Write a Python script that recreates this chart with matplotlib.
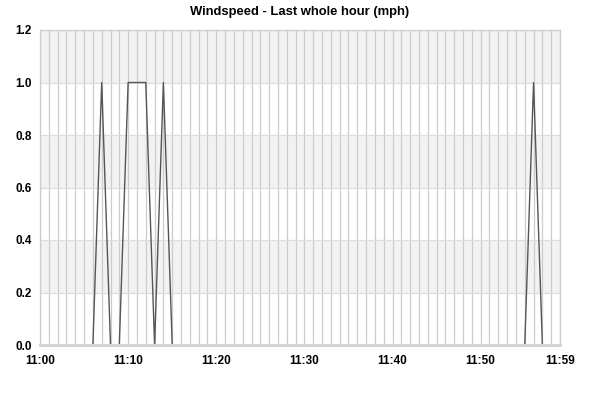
import matplotlib
matplotlib.use("Agg")
import matplotlib.pyplot as plt
import numpy as np

# minutes past 11:00 and windspeed (mph)
minutes = list(range(60))
speed = [0, 0, 0, 0, 0, 0, 0, 1, 0, 0,
         1, 1, 1, 0, 1, 0, 0, 0, 0, 0,
         0, 0, 0, 0, 0, 0, 0, 0, 0, 0,
         0, 0, 0, 0, 0, 0, 0, 0, 0, 0,
         0, 0, 0, 0, 0, 0, 0, 0, 0, 0,
         0, 0, 0, 0, 0, 0, 1, 0, 0, 0]
tick_minutes = [0, 10, 20, 30, 40, 50, 59]
tick_labels = ["11:00", "11:10", "11:20", "11:30", "11:40", "11:50", "11:59"]
y_ticks = [0.0, 0.2, 0.4, 0.6, 0.8, 1.0, 1.2]

plt.rcParams["font.family"] = ["Liberation Sans", "DejaVu Sans"]

fig = plt.figure(figsize=(6, 4), dpi=100)
ax = fig.add_axes([40 / 600, 55 / 400, 520 / 600, 315 / 400])

# alternating bands
for i in range(len(y_ticks) - 1):
    if i % 2 == 1:
        ax.axhspan(y_ticks[i], y_ticks[i + 1], color="#f2f2f2", zorder=0, lw=0)

ax.set_xticks(minutes, minor=True)
ax.grid(which="minor", axis="x", color="#cccccc", lw=0.9, zorder=1)
ax.grid(which="major", axis="x", color="#cccccc", lw=0.9, zorder=1)
ax.grid(which="major", axis="y", color="#dddddd", lw=0.9, zorder=1)

ax.plot(minutes, speed, color="#555555", lw=1.0, zorder=2)

ax.set_xlim(0, 59)
ax.set_ylim(0, 1.2)
ax.set_xticks(tick_minutes)
ax.set_xticklabels(tick_labels)
ax.set_yticks(y_ticks)
ax.set_yticklabels([f"{v:.1f}" for v in y_ticks])
ax.tick_params(which="both", length=0, labelsize=8.5)
ax.tick_params(axis="y", pad=6)
ax.tick_params(axis="x", pad=7)
for lbl in ax.get_xticklabels() + ax.get_yticklabels():
    lbl.set_fontweight("bold")

for s in ax.spines.values():
    s.set_color("#cccccc")
    s.set_linewidth(0.9)
    s.set_zorder(3)
ax.spines["bottom"].set_linewidth(2.2)
ax.spines["bottom"].set_color("#d4d4d4")

fig.text(0.5, 1 - 12 / 400, "Windspeed - Last whole hour (mph)", ha="center", va="center",
         fontsize=9.4, fontweight="bold")

fig.savefig("out.png", dpi=100)
